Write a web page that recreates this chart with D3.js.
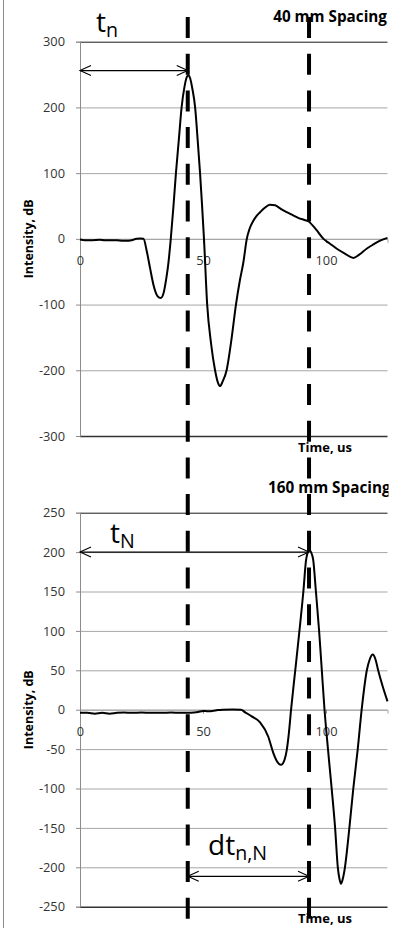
<!DOCTYPE html>
<html>
<head>
<meta charset="utf-8">
<script src="https://cdn.jsdelivr.net/npm/d3@7"></script>
<style>
  html, body { margin: 0; padding: 0; background: #fff; }
  svg { display: block; }
</style>
</head>
<body>
<svg id="chart" width="405" height="928"></svg>
<script>
// ---------- DATA ----------
const titles = ["40 mm Spacing", "160 mm Spacing"];
const xTicks = [0, 50, 100];
const yTicksTop = [-300, -200, -100, 0, 100, 200, 300];
const yTicksBottom = [-250, -200, -150, -100, -50, 0, 50, 100, 150, 200, 250];

// 40 mm spacing waveform (time in us, intensity in dB)
const timeTop = [0, 2, 5, 8, 10, 13, 16, 19, 21, 23, 24.5, 25.8, 27.1, 28.5, 30, 31.5, 32.8, 34, 35, 35.9, 36.9,
  38, 39, 40.2, 41.3, 42.5, 43.2, 44, 44.8, 45.6, 46.8, 47.8, 48.8, 49.6, 50.4, 51.7, 53.3, 54.9, 56, 56.9, 58, 59.6,
  61.5, 63.4, 65, 66.4, 67.8, 68.9, 70.4, 71.8, 73.2, 75, 77.2, 79.3, 81.5, 84, 86.5, 88.7, 91, 92.8, 96, 99, 101.5, 104.4,
  107.5, 111.1, 113.5, 116.5, 119.5, 122, 125];
const intensityTop = [-1, -2, -2, -1.5, -2, -2, -2.5, -3, -2, 0, 0.5, 0, -18, -45, -72, -87, -90, -82, -62, -38, 0,
  50, 100, 152, 200, 232, 244, 249, 244, 230, 200, 152, 100, 52, 0, -100, -160, -200, -218, -224, -217, -200,
  -155, -100, -63, -36, 0, 15, 27, 35, 40.5, 47, 52, 51, 46, 40.5, 36, 32, 29, 26.8, 14, 0, -7, -15,
  -22, -29, -24, -15, -8, -2.6, 1.5];

// 160 mm spacing waveform
const timeBottom = [0, 3, 6, 9, 12, 15, 18, 21, 25, 29, 33, 37, 41, 45, 48, 50, 52, 54, 56, 58, 62, 65.5, 67, 69.8,
  73.2, 76.5, 78.6, 80, 81.7, 83.2, 84, 84.9, 85.8, 87.5, 89.2, 90.8, 91.9, 92.6, 93.2, 93.9, 94.8, 95.9, 97.2,
  98.3, 99.4, 100.8, 102.3, 103.7, 104.8, 105.5, 106.1, 106.8, 107.7, 109.5, 111.1, 112.9, 114.5, 116.6, 117.8,
  119, 120.1, 121.2, 123, 125];
const intensityBottom = [-4, -4, -5, -4, -5, -4, -3.5, -4, -3.5, -4, -4, -3.5, -4, -4, -3, -1.5, -2, -1.5, -0.5, 0,
  0.3, 0, -3, -8.5, -16, -34, -55, -65, -70, -63, -52, -30, 0, 50, 100, 150, 190, 200, 203, 200, 190, 150, 100,
  50, 0, -50, -100, -150, -200, -215, -221, -215, -200, -150, -100, -50, 0, 50, 64, 70, 64, 50, 30, 10.5];

// marked arrival times (us)
const markerTimes = [43.8, 93.1];
// arrow levels (dB) for t_n, t_N and dt_n,N
const arrowLevels = [256, 200, -211.5];

// ---------- LAYOUT ----------
const svg = d3.select("#chart");
const FONT = "'Open Sans', Lato, sans-serif";
const plotLeft = 80, plotRight = 387.5;
const x = d3.scaleLinear().domain([0, 125]).range([plotLeft, plotRight]);

// scale a text's font size so that it spans a given width
function fitSize(sel, target) {
  const base = +sel.attr("font-size");
  const w = sel.node().getComputedTextLength();
  const s = w > 0 ? base * target / w : base;
  sel.attr("font-size", s);
  return s;
}
const probe = svg.append("text").attr("font-family", FONT).attr("font-size", 13).text("300");
const TICK_SIZE = fitSize(probe, 22);
probe.remove();
const probeT = svg.append("text").attr("font-family", FONT).attr("font-weight", "bold").attr("font-size", 13).text(titles[0]);
const TITLE_SIZE = fitSize(probeT, 114);
probeT.remove();

const panels = [
  { time: timeTop, val: intensityTop, ticks: yTicksTop, dom: [-300, 300], range: [436, 41.7], title: titles[0], titleAnchor: "end" },
  { time: timeBottom, val: intensityBottom, ticks: yTicksBottom, dom: [-250, 250], range: [906.7, 512.7], title: titles[1], titleAnchor: "start" }
];

// left chart border
svg.append("line").attr("x1", 3.5).attr("x2", 3.5).attr("y1", 0).attr("y2", 928)
  .attr("stroke", "#8c8c8c").attr("stroke-width", 1);

svg.append("defs").append("clipPath").attr("id", "clipR")
  .append("rect").attr("x", 0).attr("y", 0).attr("width", 388.5).attr("height", 928);

const fmt = d => String(d);

panels.forEach((p, i) => {
  const y = d3.scaleLinear().domain(p.dom).range(p.range);
  p.y = y;
  const g = svg.append("g");

  // gridlines
  const grid = g.append("g").attr("transform", `translate(${plotLeft},0)`)
    .call(d3.axisLeft(y).tickValues(p.ticks).tickSize(-(plotRight - plotLeft)).tickFormat(""));
  grid.select(".domain").remove();
  grid.selectAll(".tick line").attr("stroke", "#a6a6a6").attr("stroke-width", 1);
  grid.selectAll(".tick line").filter(d => d === p.dom[1]).attr("stroke", "#1a1a1a");
  grid.selectAll(".tick line").filter(d => d === p.dom[0]).attr("stroke", "#333").attr("stroke-width", 1.5);

  // y axis
  const ya = g.append("g").attr("transform", `translate(${plotLeft},0)`)
    .call(d3.axisLeft(y).tickValues(p.ticks).tickFormat(fmt).tickSize(4).tickPadding(11));
  ya.select(".domain").attr("stroke", "#8c8c8c");
  ya.selectAll(".tick line").attr("stroke", "#8c8c8c");
  ya.selectAll(".tick text").attr("font-family", FONT).attr("font-size", TICK_SIZE).attr("fill", "#333");

  // x axis at zero
  const xa = g.append("g").attr("transform", `translate(0,${y(0)})`)
    .call(d3.axisBottom(x).tickValues(xTicks).tickFormat(fmt).tickSize(4).tickPadding(13));
  xa.select(".domain").attr("stroke", "#a6a6a6");
  xa.selectAll(".tick line").attr("stroke", "#8c8c8c");
  xa.selectAll(".tick text").attr("font-family", FONT).attr("font-size", TICK_SIZE).attr("fill", "#333");

  // y axis title
  const cy = (p.range[0] + p.range[1]) / 2;
  const yt = g.append("text").attr("transform", `translate(33,${cy}) rotate(-90)`)
    .attr("text-anchor", "middle").attr("font-family", FONT).attr("font-weight", "bold")
    .attr("font-size", 12).attr("fill", "#000").text("Intensity, dB");
  fitSize(yt, 79);

  // x axis title
  const xt = g.append("text").attr("x", 298).attr("y", p.range[0] + 16)
    .attr("font-family", FONT).attr("font-weight", "bold").attr("font-size", 11.5).attr("fill", "#000")
    .text("Time, us");
  fitSize(xt, 54);

  // chart title
  g.append("text").attr("clip-path", "url(#clipR)")
    .attr("x", p.titleAnchor === "end" ? 387 : 268).attr("y", p.range[1] - 20)
    .attr("text-anchor", p.titleAnchor)
    .attr("font-family", FONT).attr("font-weight", "bold").attr("font-size", TITLE_SIZE).attr("fill", "#000")
    .text(p.title);

  // waveform
  const pts = p.time.map((t, k) => [t, p.val[k]]);
  g.append("path").datum(pts)
    .attr("fill", "none").attr("stroke", "#000").attr("stroke-width", 2).attr("stroke-linejoin", "round")
    .attr("d", d3.line().x(d => x(d[0])).y(d => y(d[1])).curve(d3.curveMonotoneX));
});

// dashed vertical markers
svg.selectAll("line.marker").data(markerTimes).join("line").attr("class", "marker")
  .attr("x1", d => x(d)).attr("x2", d => x(d)).attr("y1", 17).attr("y2", 928)
  .attr("stroke", "#000").attr("stroke-width", 4).attr("stroke-dasharray", "21,15.7");

// arrows
function arrow(x1, x2, yy) {
  const g = svg.append("g").attr("stroke", "#000").attr("stroke-width", 1.1).attr("fill", "none");
  g.append("line").attr("x1", x1).attr("x2", x2).attr("y1", yy).attr("y2", yy);
  g.append("path").attr("d", `M${x1 + 11},${yy - 5}L${x1},${yy}L${x1 + 11},${yy + 5}`);
  g.append("path").attr("d", `M${x2 - 11},${yy - 5}L${x2},${yy}L${x2 - 11},${yy + 5}`);
}
const yT = panels[0].y, yB = panels[1].y;
arrow(x(0), x(markerTimes[0]), yT(arrowLevels[0]));
arrow(x(0), x(markerTimes[1]), yB(arrowLevels[1]));
arrow(x(markerTimes[0]), x(markerTimes[1]), yB(arrowLevels[2]));

// annotation labels
const LABEL_SIZE = 28;
function subLabel(xx, yy, main, sub) {
  const t = svg.append("text").attr("x", xx).attr("y", yy)
    .attr("font-family", FONT).attr("font-size", LABEL_SIZE).attr("fill", "#000");
  t.append("tspan").text(main);
  t.append("tspan").attr("font-size", LABEL_SIZE * 0.7).attr("dy", 5).text(sub);
}
subLabel(96, 32, "t", "n");
subLabel(110, 543, "t", "N");
subLabel(208, 855, "dt", "n,N");
</script>
</body>
</html>
